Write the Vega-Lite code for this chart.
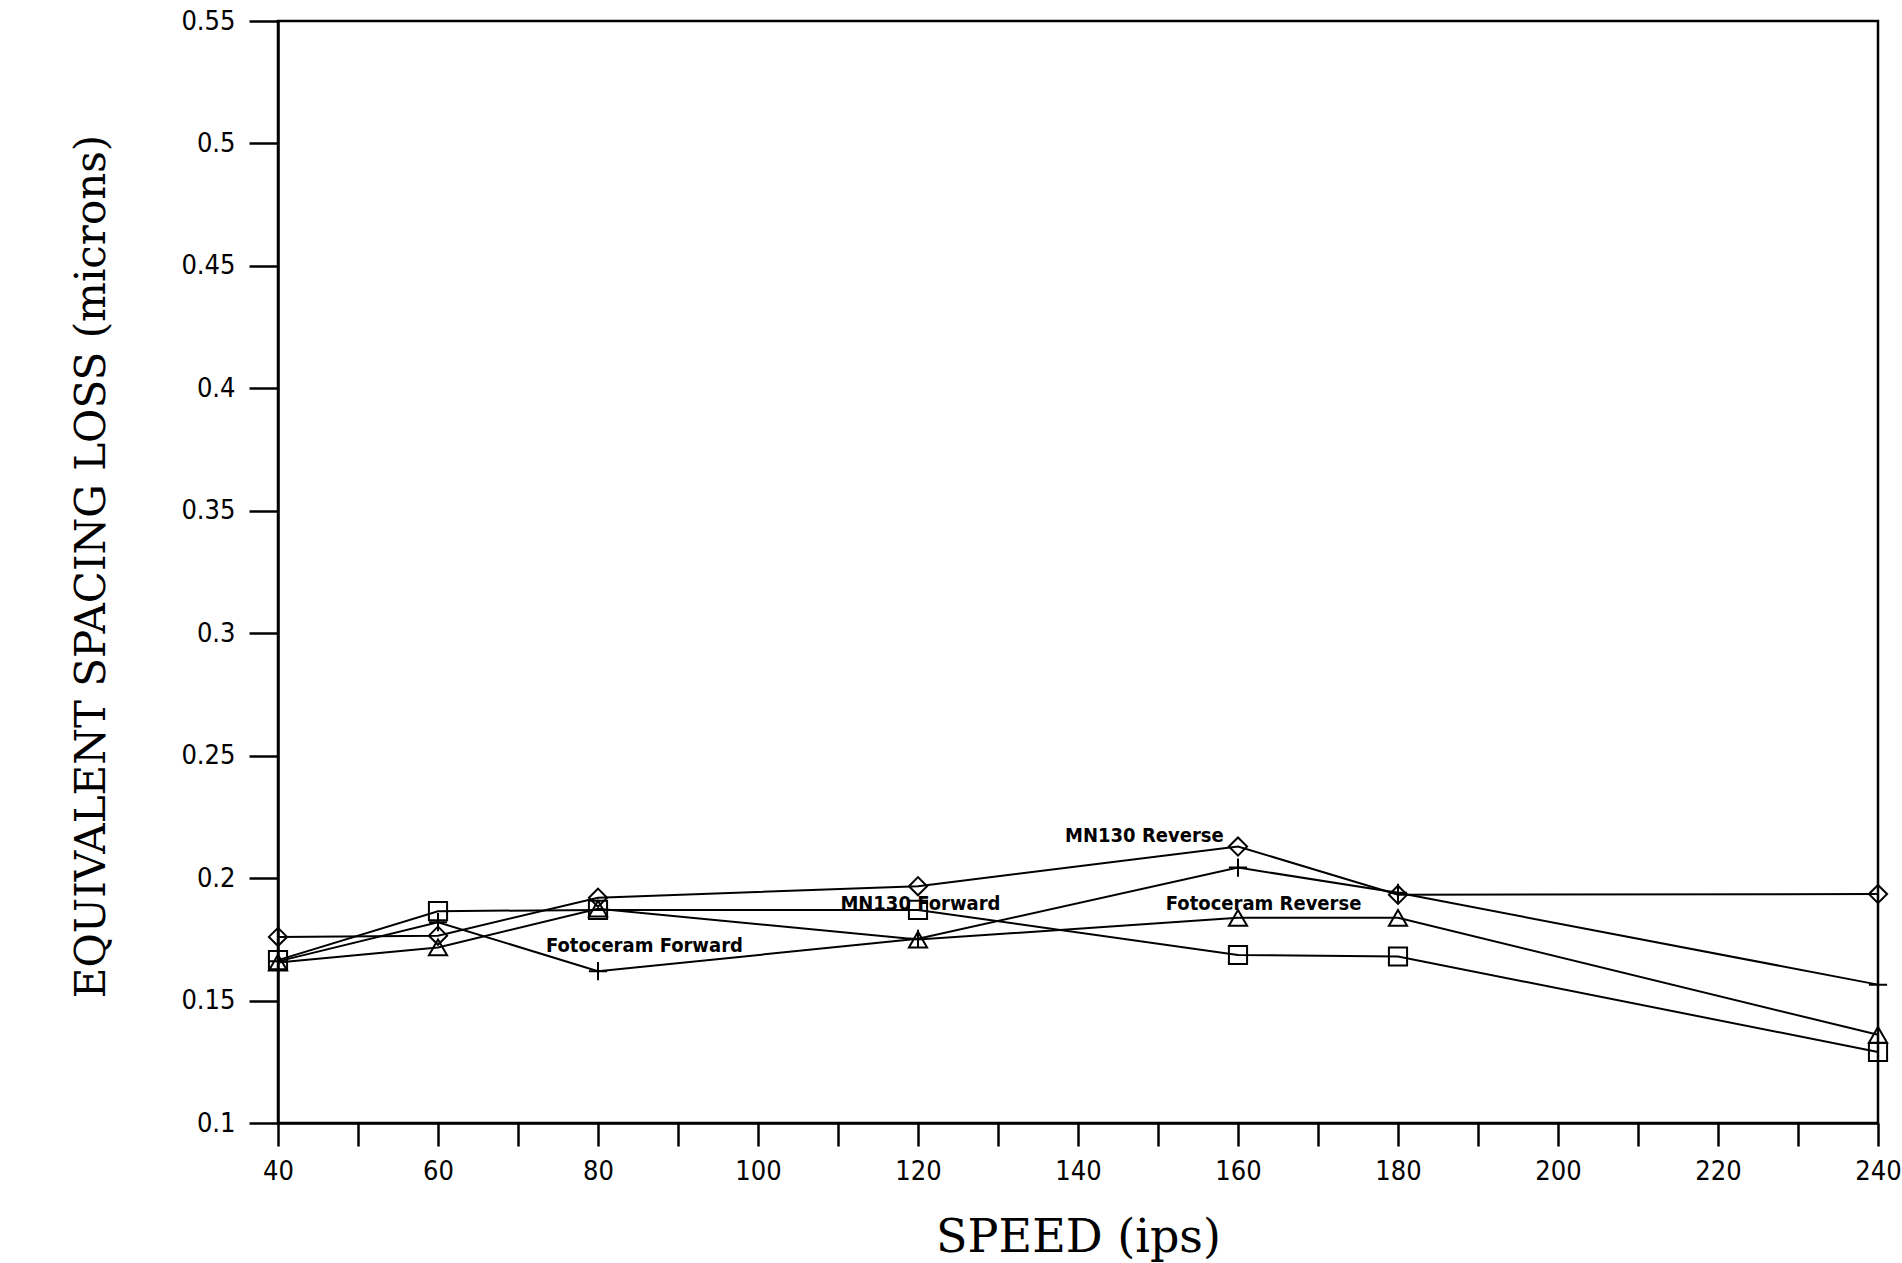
{
  "$schema": "https://vega.github.io/schema/vega-lite/v6.json",
  "width": 1600,
  "height": 1102,
  "autosize": {"type": "none"},
  "padding": {"left": 278, "top": 21, "right": 24, "bottom": 140},
  "background": "white",
  "config": {
    "view": {"stroke": "black", "strokeWidth": 2.5},
    "axis": {
      "domainColor": "black",
      "domainWidth": 2.5,
      "tickColor": "black",
      "tickWidth": 2.5,
      "grid": false,
      "labelColor": "black",
      "labelFont": "DejaVu Sans Condensed",
      "labelFontSize": 27,
      "titleColor": "black",
      "titleFont": "DejaVu Serif",
      "titleFontWeight": "normal"
    }
  },
  "datasets": {
    "series": [
      {"series": "MN130 Reverse", "speed": 40, "loss": 0.176},
      {"series": "MN130 Reverse", "speed": 60, "loss": 0.1765},
      {"series": "MN130 Reverse", "speed": 80, "loss": 0.192},
      {"series": "MN130 Reverse", "speed": 120, "loss": 0.1967},
      {"series": "MN130 Reverse", "speed": 160, "loss": 0.2129},
      {"series": "MN130 Reverse", "speed": 180, "loss": 0.1932},
      {"series": "MN130 Reverse", "speed": 240, "loss": 0.1935},
      {"series": "MN130 Forward", "speed": 40, "loss": 0.1665},
      {"series": "MN130 Forward", "speed": 60, "loss": 0.1865},
      {"series": "MN130 Forward", "speed": 80, "loss": 0.187},
      {"series": "MN130 Forward", "speed": 120, "loss": 0.187},
      {"series": "MN130 Forward", "speed": 160, "loss": 0.1686},
      {"series": "MN130 Forward", "speed": 180, "loss": 0.168},
      {"series": "MN130 Forward", "speed": 240, "loss": 0.129},
      {"series": "Fotoceram Reverse", "speed": 40, "loss": 0.1655},
      {"series": "Fotoceram Reverse", "speed": 60, "loss": 0.1717},
      {"series": "Fotoceram Reverse", "speed": 80, "loss": 0.1875},
      {"series": "Fotoceram Reverse", "speed": 120, "loss": 0.1749},
      {"series": "Fotoceram Reverse", "speed": 160, "loss": 0.1838},
      {"series": "Fotoceram Reverse", "speed": 180, "loss": 0.1838},
      {"series": "Fotoceram Reverse", "speed": 240, "loss": 0.136},
      {"series": "Fotoceram Forward", "speed": 40, "loss": 0.166},
      {"series": "Fotoceram Forward", "speed": 60, "loss": 0.182},
      {"series": "Fotoceram Forward", "speed": 80, "loss": 0.162},
      {"series": "Fotoceram Forward", "speed": 120, "loss": 0.1752},
      {"series": "Fotoceram Forward", "speed": 160, "loss": 0.2043},
      {"series": "Fotoceram Forward", "speed": 180, "loss": 0.194},
      {"series": "Fotoceram Forward", "speed": 240, "loss": 0.1565}
    ],
    "labels": [
      {"label": "MN130 Reverse", "speed": 148.3, "loss": 0.2171},
      {"label": "MN130 Forward", "speed": 120.3, "loss": 0.1894},
      {"label": "Fotoceram Forward", "speed": 85.8, "loss": 0.1722},
      {"label": "Fotoceram Reverse", "speed": 163.2, "loss": 0.1894}
    ]
  },
  "encoding": {
    "x": {
      "field": "speed",
      "type": "quantitative",
      "scale": {"domain": [40, 240], "nice": false, "zero": false},
      "axis": {
        "title": "SPEED (ips)",
        "titleFontSize": 46,
        "titleY": 114,
        "titleBaseline": "middle",
        "values": [40, 50, 60, 70, 80, 90, 100, 110, 120, 130, 140, 150, 160, 170, 180, 190, 200, 210, 220, 230, 240],
        "labelExpr": "datum.value % 20 == 0 ? datum.label : ''",
        "tickSize": 23,
        "labelPadding": 12,
        "labelFlush": false
      }
    },
    "y": {
      "field": "loss",
      "type": "quantitative",
      "scale": {"domain": [0.1, 0.55], "nice": false, "zero": false},
      "axis": {
        "title": "EQUIVALENT SPACING LOSS (microns)",
        "titleFontSize": 42,
        "titleAngle": 270,
        "titleX": -187,
        "titleY": 545,
        "titleAlign": "center",
        "titleBaseline": "middle",
        "values": [0.1, 0.15, 0.2, 0.25, 0.3, 0.35, 0.4, 0.45, 0.5, 0.55],
        "format": ".2~f",
        "tickSize": 29,
        "labelPadding": 14,
        "labelFlush": false
      }
    }
  },
  "layer": [
    {
      "data": {"name": "series"},
      "mark": {"type": "line", "color": "black", "strokeWidth": 2},
      "encoding": {"detail": {"field": "series"}}
    },
    {
      "data": {"name": "series"},
      "mark": {"type": "point", "filled": false, "color": "black", "strokeWidth": 2, "size": 330, "opacity": 1},
      "encoding": {
        "shape": {
          "field": "series",
          "scale": {
            "domain": ["MN130 Reverse", "MN130 Forward", "Fotoceram Reverse", "Fotoceram Forward"],
            "range": ["diamond", "square", "triangle-up", "M-1,0H1M0,-1V1"]
          },
          "legend": null
        }
      }
    },
    {
      "data": {"name": "labels"},
      "mark": {"type": "text", "font": "DejaVu Sans Condensed", "fontSize": 20, "fontWeight": "bold", "color": "black"},
      "encoding": {"text": {"field": "label"}}
    }
  ]
}
